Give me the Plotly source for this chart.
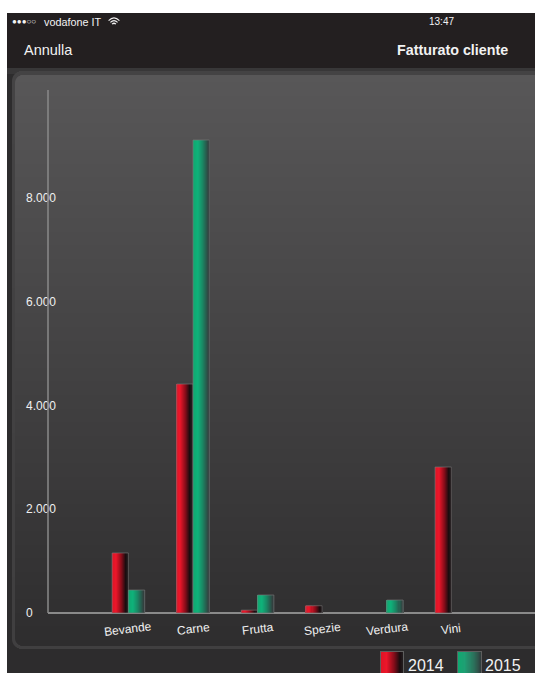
import plotly.graph_objects as go

categories = ["Bevande", "Carne", "Frutta", "Spezie", "Verdura", "Vini"]
values_2014 = [1157, 4414, 55, 140, None, 2814]
values_2015 = [443, 9118, 347, None, 250, None]
y_ticks = [0, 2000, 4000, 6000, 8000]
series_names = ["2014", "2015"]

W, H = 535, 673
PL, PR, PT, PB = 48, 535, 90, 613
PX_PER_UNIT = 103.75 / 2000
Y_PAD = 200
fx = lambda x: x / W
fy = lambda y: 1 - y / H


def lerp(a, b, t):
    return tuple(round(a[i] + (b[i] - a[i]) * t) for i in range(3))


def ramp(stops, t):
    for (t0, c0), (t1, c1) in zip(stops, stops[1:]):
        if t <= t1:
            return lerp(c0, c1, (t - t0) / (t1 - t0))
    return stops[-1][1]


def css(c):
    return f"rgb({c[0]},{c[1]},{c[2]})"


RED = [(0, (222, 20, 38)), (0.25, (236, 22, 42)), (0.6, (130, 12, 25)), (0.85, (25, 12, 15)), (1, (35, 30, 32))]
GREEN = [(0, (16, 168, 112)), (0.3, (15, 178, 122)), (0.6, (25, 135, 100)), (1, (52, 58, 60))]

shapes = []


def rect(x0, y0, x1, y1, fill):
    shapes.append(dict(type="rect", xref="paper", yref="paper", x0=fx(x0), x1=fx(x1), y0=fy(y0), y1=fy(y1),
                       fillcolor=fill, line_width=0, layer="below"))


rect(7, 13, 535, 673, "#2d2c2d")
rect(7, 68, 535, 74, "#383738")
rect(7, 13, 535, 68, "#231f20")


# panel frame with rounded corners, drawn as slices
def rounded(left, top, bottom, r, colour_at):
    for y in range(top, bottom):
        d = min(y - top, bottom - 1 - y)
        inset = r - (r * r - (r - d - 0.5) ** 2) ** 0.5 if d < r else 0
        rect(left + inset, y, 535, y + 1, colour_at((y - top) / (bottom - top)))


rounded(12, 71, 649, 10, lambda t: css(lerp((68, 67, 68), (64, 63, 64), t)))
rounded(15, 75, 646, 8, lambda t: css(lerp((88, 87, 88), (46, 45, 46), t)))

fig = go.Figure()
N = 16
bar_w = 16.3 / 64.6
x = list(range(len(categories)))
for name, vals, stops, sign in [(series_names[0], values_2014, RED, -1), (series_names[1], values_2015, GREEN, 0)]:
    for i in range(N):
        fig.add_trace(go.Bar(x=x, y=vals, width=bar_w / N, offset=sign * bar_w + i * bar_w / N, name=name,
                             showlegend=False, hoverinfo="skip",
                             marker=dict(color=css(ramp(stops, (i + 0.5) / N)), line_width=0)))
    # outline on top
    fig.add_trace(go.Bar(x=x, y=vals, width=bar_w, offset=sign * bar_w, name=name, showlegend=False,
                         marker=dict(color="rgba(0,0,0,0)", line=dict(color="rgba(120,120,120,0.8)", width=0.8))))

# legend swatches
for (x0, x1), stops in [((381, 403), RED), ((458, 481), GREEN)]:
    rect(x0 - 1, 651, x1 + 1, 673, "#5e5e5e")
    for i in range(22):
        t = (i + 0.5) / 22
        xa = x0 + (x1 - x0) * i / 22
        xb = x0 + (x1 - x0) * (i + 1) / 22
        rect(xa, 652, xb, 673, css(ramp(stops, t)))

# y axis line
shapes.append(dict(type="line", xref="paper", yref="paper", x0=fx(48), x1=fx(48), y0=fy(90), y1=fy(613),
                   line=dict(color="#8a8a8a", width=1.5)))
# wifi glyph
for rr, wd in [(7.5, 1.1), (5, 1.1), (2.6, 1.3)]:
    cx, cy = 114, 26
    k = 0.72 * rr
    shapes.append(dict(type="path", xref="paper", yref="paper",
                       path=f"M {fx(cx - k)} {fy(cy - k)} Q {fx(cx)} {fy(cy - 2 * k)} {fx(cx + k)} {fy(cy - k)}",
                       line=dict(color="#f0f0f0", width=wd)))

fn = "Liberation Sans"
ann = [
    dict(text="●●●○○", x=10, y=22, size=8, a="left"),
    dict(text="vodafone IT", x=42, y=22, size=10.8, a="left"),
    dict(text="13:47", x=441, y=22, size=10, a="center"),
    dict(text="Annulla", x=22, y=50, size=14.5, a="left"),
    dict(text="<b>Fatturato cliente</b>", x=452, y=50, size=14.3, a="center"),
    dict(text="2014", x=406, y=665, size=16, a="left"),
    dict(text="2015", x=483, y=665, size=16, a="left"),
]
annotations = [dict(text=a["text"], xref="paper", yref="paper", x=fx(a["x"]), y=fy(a["y"]), xanchor=a["a"],
                    yanchor="middle", showarrow=False, font=dict(family=fn, size=a["size"], color="#f2f2f2"))
               for a in ann]
# category labels: centred under each group and slightly rotated
for i, c in enumerate(categories):
    annotations.append(dict(text=c, xref="x", yref="paper", x=i, y=fy(629), xanchor="center", yanchor="middle",
                            textangle=-7, showarrow=False, font=dict(family=fn, size=12, color="#f0f0f0")))

fig.update_layout(
    width=W, height=H, autosize=False, margin=dict(l=0, r=0, t=0, b=0),
    paper_bgcolor="white", plot_bgcolor="rgba(0,0,0,0)", barmode="overlay", showlegend=False,
    separators=",.", shapes=shapes, annotations=annotations,
    font=dict(family=fn, color="#f0f0f0", size=12),
    xaxis=dict(domain=[fx(PL), fx(PR)], range=[-1.245, 6.295], tickmode="array", tickvals=x,
               showticklabels=False, ticklen=0, showgrid=False, zeroline=False, showline=False),
    yaxis=dict(domain=[fy(PB + Y_PAD * PX_PER_UNIT), fy(PT)], range=[-Y_PAD, (PB - PT) / PX_PER_UNIT],
               tickmode="array", tickvals=y_ticks,
               tickformat=",d", anchor="free", position=fx(22), ticklabelposition="inside", ticklen=0,
               showgrid=False, zeroline=True, zerolinecolor="#8a8a8a", zerolinewidth=1.5, showline=False,
               tickfont=dict(size=12, color="#f0f0f0")),
)
fig.write_html("out.html", config=dict(displayModeBar=False),
               post_script="document.body.style.margin='0';document.body.style.overflow='hidden';")
